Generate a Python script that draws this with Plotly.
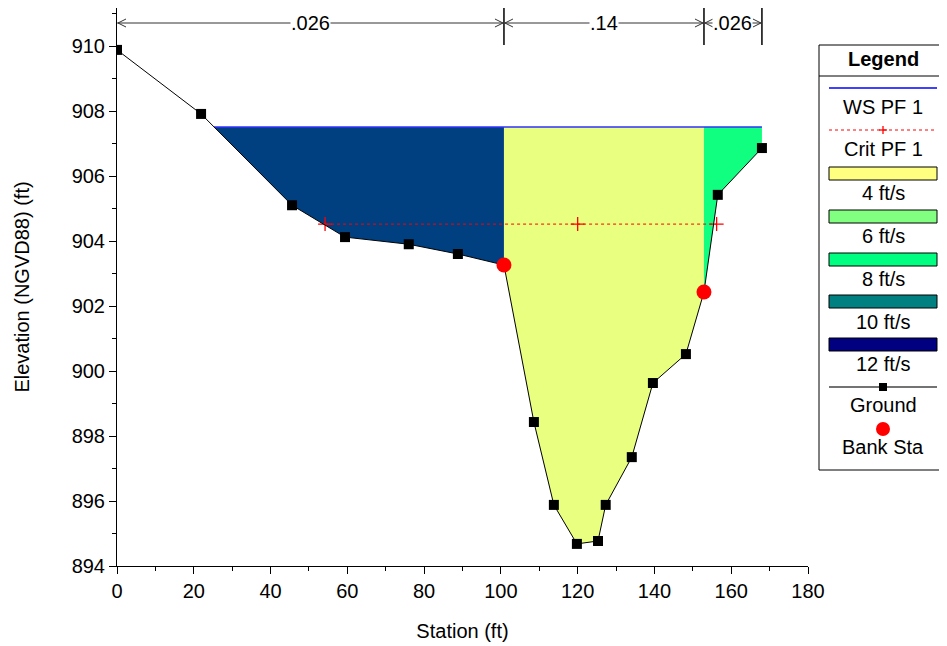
import numpy as np
import plotly.graph_objects as go

# ---------------- data ----------------
station = [0, 21.9, 45.6, 59.4, 76.0, 88.8, 100.8, 108.6, 113.8, 119.8, 125.3,
           127.3, 134.1, 139.6, 148.2, 152.9, 156.5, 168.0]
elevation = [909.88, 907.91, 905.10, 904.12, 903.90, 903.60, 903.26, 898.43, 895.88,
             894.68, 894.77, 895.88, 897.35, 899.63, 900.52, 902.43, 905.42, 906.86]
bank_sta = [100.8, 152.9]
bank_elev = [903.26, 902.43]
ws_elev = 907.51
crit_elev = 904.52
crit_sta = [54.2, 120.0, 156.2]
n_values = [".026", ".14", ".026"]
n_breaks = [0, 100.8, 152.9, 168.0]
legend_labels = ["WS PF 1", "Crit PF 1", "4 ft/s", "6 ft/s", "8 ft/s", "10 ft/s", "12 ft/s",
                 "Ground", "Bank Sta"]
vel_colors = ["#FFFF80", "#80FF80", "#00FF80", "#008080", "#000080"]
fill_colors = ["#003F80", "#E8FF80", "#10FF80"]

st = np.array(station)
el = np.array(elevation)

def left_intersect(level):
    for i in range(len(st) - 1):
        if el[i] >= level >= el[i + 1]:
            t = (el[i] - level) / (el[i] - el[i + 1])
            return st[i] + t * (st[i + 1] - st[i])
    return st[0]

ws_start = left_intersect(ws_elev)
ws_end = st[-1]

def ground_between(a, b):
    m = (st > a) & (st < b)
    return list(st[m]), list(el[m])

# ---------------- layout helpers (window pixel coords; page has 8px body margin) ----------------
OFF = 8
W, H = 947 - OFF, 646 - OFF
XL, XR, YT, YB = 117, 808, 8, 566   # plot area in window pixels

def px(x):
    return (x - XL) / (XR - XL)

def py(y):
    return (YB - y) / (YB - YT)

FONT = "Liberation Sans, Arial, sans-serif"
FS = 20
fig = go.Figure()

# left overbank
gx, gy = ground_between(ws_start, bank_sta[0])
xs = [ws_start] + gx + [bank_sta[0], bank_sta[0], ws_start]
ys = [ws_elev] + gy + [bank_elev[0], ws_elev, ws_elev]
fig.add_trace(go.Scatter(x=xs, y=ys, fill="toself", fillcolor=fill_colors[0], mode="none",
                         hoverinfo="skip", showlegend=False))
# main channel
gx, gy = ground_between(bank_sta[0], bank_sta[1])
xs = [bank_sta[0]] + gx + [bank_sta[1], bank_sta[1], bank_sta[0]]
ys = [bank_elev[0]] + gy + [bank_elev[1], ws_elev, ws_elev]
fig.add_trace(go.Scatter(x=xs, y=ys, fill="toself", fillcolor=fill_colors[1], mode="none",
                         hoverinfo="skip", showlegend=False))
# right overbank
gx, gy = ground_between(bank_sta[1], ws_end + 0.01)
xs = [bank_sta[1]] + gx + [ws_end, bank_sta[1]]
ys = [bank_elev[1]] + gy + [ws_elev, ws_elev]
fig.add_trace(go.Scatter(x=xs, y=ys, fill="toself", fillcolor=fill_colors[2], mode="none",
                         hoverinfo="skip", showlegend=False))

# water surface
fig.add_trace(go.Scatter(x=[ws_start, ws_end], y=[ws_elev, ws_elev], mode="lines",
                         line=dict(color="#3030FF", width=1.5), showlegend=False))
# critical
fig.add_trace(go.Scatter(x=crit_sta, y=[crit_elev] * len(crit_sta), mode="lines+markers",
                         line=dict(color="red", width=1, dash="dot"),
                         marker=dict(symbol="cross-thin", size=10, line=dict(color="red", width=1.3)),
                         showlegend=False))
# ground
fig.add_trace(go.Scatter(x=station, y=elevation, mode="lines+markers",
                         line=dict(color="black", width=1),
                         marker=dict(symbol="square", size=10, color="black"),
                         showlegend=False))
# bank stations
fig.add_trace(go.Scatter(x=bank_sta, y=bank_elev, mode="markers",
                         marker=dict(symbol="circle", size=15, color="red"),
                         showlegend=False))

shapes = []
annotations = []

# n-value dimension lines at top
for xb in n_breaks[1:]:
    shapes.append(dict(type="line", xref="x", yref="paper", x0=xb, x1=xb,
                       y0=py(45), y1=py(3), line=dict(color="black", width=1.5)))
arrow_y = py(23)
ac = "#333333"
for i, lab in enumerate(n_values):
    a, b = n_breaks[i], n_breaks[i + 1]
    c = (a + b) / 2
    shapes.append(dict(type="line", xref="x", yref="paper", x0=a, x1=b, y0=arrow_y, y1=arrow_y,
                       line=dict(color=ac, width=1)))
    for xe, sgn in ((a, 1), (b, -1)):
        for dy in (4, -4):
            shapes.append(dict(type="line", xref="x", yref="paper", xsizemode="pixel",
                               xanchor=xe, x0=1 * sgn, x1=9 * sgn,
                               y0=arrow_y, y1=arrow_y + dy / (YB - YT),
                               line=dict(color=ac, width=1)))
    annotations.append(dict(x=c, y=arrow_y, xref="x", yref="paper", text=lab,
                            xanchor="center", yanchor="middle",
                            showarrow=False, bgcolor="white", borderpad=0,
                            font=dict(family=FONT, size=FS, color="black")))

# legend box
LBX0, LBX1 = 819, 946
shapes.append(dict(type="rect", xref="paper", yref="paper", x0=px(LBX0), x1=px(LBX1),
                   y0=py(470), y1=py(45), line=dict(color="black", width=1), fillcolor="white",
                   layer="above"))
shapes.append(dict(type="line", xref="paper", yref="paper", x0=px(LBX0), x1=px(LBX1),
                   y0=py(76), y1=py(76), line=dict(color="black", width=1)))
LX0, LX1, LXC = 829, 937, 883
annotations.append(dict(x=px(LXC), y=py(59), xref="paper", yref="paper", text="<b>Legend</b>",
                        xanchor="center", yanchor="middle",
                        showarrow=False, font=dict(family=FONT, size=FS, color="black")))
shapes.append(dict(type="line", xref="paper", yref="paper", x0=px(LX0), x1=px(LX1),
                   y0=py(88), y1=py(88), line=dict(color="blue", width=1.5)))
shapes.append(dict(type="line", xref="paper", yref="paper", x0=px(LX0), x1=px(LX1),
                   y0=py(130), y1=py(130), line=dict(color="red", width=1, dash="dot")))
shapes.append(dict(type="line", xref="paper", yref="paper", x0=px(LXC - 4), x1=px(LXC + 4),
                   y0=py(130), y1=py(130), line=dict(color="red", width=1.3)))
shapes.append(dict(type="line", xref="paper", yref="paper", x0=px(LXC), x1=px(LXC),
                   y0=py(126), y1=py(134), line=dict(color="red", width=1.3)))
sw_tops = [167, 210, 253, 295, 338]
for col, t in zip(vel_colors, sw_tops):
    shapes.append(dict(type="rect", xref="paper", yref="paper", x0=px(LX0), x1=px(LX1),
                       y0=py(t + 13), y1=py(t), line=dict(color="black", width=1),
                       fillcolor=col))
shapes.append(dict(type="line", xref="paper", yref="paper", x0=px(LX0), x1=px(LX1),
                   y0=py(387), y1=py(387), line=dict(color="#444", width=1.5)))
shapes.append(dict(type="rect", xref="paper", yref="paper", x0=px(LXC - 4), x1=px(LXC + 4),
                   y0=py(391), y1=py(383), line=dict(color="black", width=0), fillcolor="black"))
shapes.append(dict(type="circle", xref="paper", yref="paper", x0=px(LXC - 7), x1=px(LXC + 7),
                   y0=py(436), y1=py(422), line=dict(color="red", width=0), fillcolor="red"))

text_y = [107, 149, 193, 236, 279, 322, 364, 405, 447]
for lab, ty in zip(legend_labels, text_y):
    annotations.append(dict(x=px(LXC), y=py(ty), xref="paper", yref="paper", text=lab,
                            xanchor="center", yanchor="middle",
                            showarrow=False, font=dict(family=FONT, size=FS, color="black")))

y_top = 910 + (46 - YT) / 32.5
fig.update_layout(
    width=W, height=H,
    margin=dict(l=XL - OFF, r=W - (XR - OFF), t=YT - OFF, b=H - (YB - OFF), autoexpand=False),
    paper_bgcolor="white", plot_bgcolor="white",
    font=dict(family=FONT, size=FS, color="black"),
    shapes=shapes, annotations=annotations,
    showlegend=False,
    xaxis=dict(range=[0, 180], tickmode="linear", tick0=0, dtick=20, showgrid=False,
               zeroline=False, showline=True, linecolor="black", linewidth=1,
               ticks="outside", ticklen=7, tickcolor="black", automargin=False,
               minor=dict(dtick=10, ticks="outside", ticklen=4, tickcolor="black"),
               title=dict(text="Station (ft)", standoff=22, font=dict(size=FS)),
               tickfont=dict(size=FS)),
    yaxis=dict(range=[894, y_top], tickmode="linear", tick0=894, dtick=2, showgrid=False,
               zeroline=False, showline=True, linecolor="black", linewidth=1,
               ticks="outside", ticklen=7, tickcolor="black", automargin=False,
               minor=dict(dtick=1, ticks="outside", ticklen=4, tickcolor="black"),
               title=dict(text="Elevation (NGVD88) (ft)", standoff=36, font=dict(size=FS)),
               tickfont=dict(size=FS)),
)

fig.write_html("out.html")
